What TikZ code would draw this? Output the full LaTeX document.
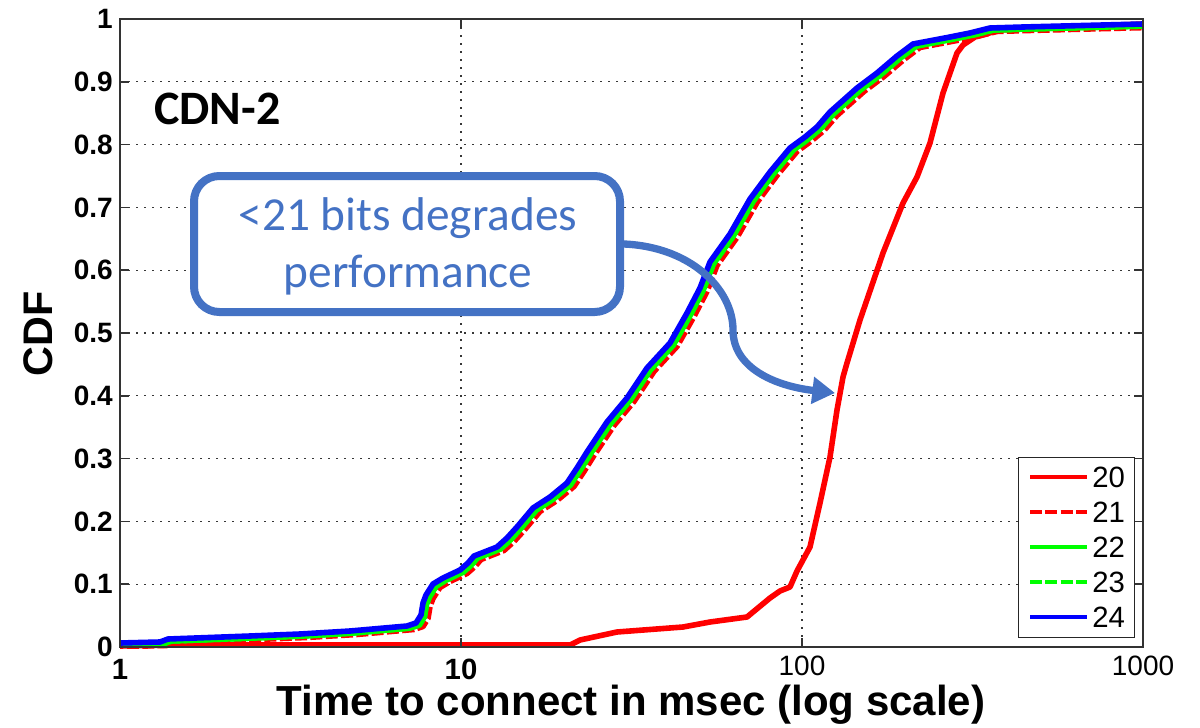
\documentclass[tikz,border=0pt]{standalone}
\usepackage{fontspec}
\setmainfont{Liberation Sans}
\newfontfamily\calibri{Carlito}
\usetikzlibrary{arrows.meta}
\definecolor{annblue}{HTML}{4472C4}
\definecolor{gridgray}{RGB}{55,55,55}
\definecolor{pRed}{RGB}{255,0,0}
\definecolor{pGreen}{RGB}{0,255,0}
\definecolor{pBlue}{RGB}{0,0,255}
\newcommand\bluecurve[1]{\draw[#1] (120,643) -- (160,642) -- (168,639) -- (250,636) -- (300,634) -- (350,631) -- (407,626) -- (416,623) -- (421,615) -- (423,603) -- (426,595) -- (433,584) -- (443,578) -- (460,570) -- (468,563) -- (474,556) -- (497,547) -- (507,538) -- (517,527) -- (533,508) -- (550,497) -- (567,483) -- (577,468) -- (587,452) -- (607,422) -- (627,398) -- (647,368) -- (670,343) -- (687,313) -- (700,288) -- (710,262) -- (730,234) -- (750,199) -- (770,172) -- (790,148) -- (805,137) -- (817,127) -- (830,112) -- (857,88) -- (877,73) -- (897,56) -- (913,44) -- (950,37) -- (970,33) -- (990,28) -- (1023,27) -- (1143,24);}
\begin{document}
\begin{tikzpicture}[x=0.75pt,y=-0.75pt,
  gridline/.style={draw=gridgray,line width=1pt,dash pattern=on 1.5pt off 4.5pt},
  axisline/.style={draw=black!80,line width=1.1pt},
  curve/.style={line width=4.2pt,line join=round},
  legline/.style={line width=3pt},
  ytick/.style={anchor=east,font=\fontsize{21}{24}\selectfont\bfseries,inner sep=0pt},
  xtick/.style={anchor=center,font=\fontsize{21}{24}\selectfont,inner sep=0pt},
  legtext/.style={anchor=west,font=\fontsize{22}{26}\selectfont,inner sep=0pt},
  anntext/.style={anchor=base,text=annblue,font=\calibri\fontsize{35.5}{40}\selectfont,inner sep=0pt}]
\useasboundingbox (0,0) rectangle (1200,728);
% grid
\foreach \f in {1,...,9} {\draw[gridline] (120,{647-62.8*\f}) -- (1143,{647-62.8*\f});}
\foreach \gx in {461,802} {\draw[gridline] (\gx,19) -- (\gx,647);}
% curves
\begin{scope}
\clip (120,12) rectangle (1143,648);
\draw[curve,pRed] (120,646) -- (175,645) -- (440,645) -- (570,645) -- (580,640) -- (617,632) -- (683,627) -- (710,622) -- (747,617) -- (770,598) -- (780,591) -- (790,587) -- (797,571) -- (810,547) -- (820,503) -- (830,457) -- (837,410) -- (843,377) -- (847,363) -- (860,320) -- (883,253) -- (903,203) -- (917,177) -- (930,143) -- (943,93) -- (957,53) -- (963,45) -- (975,37) -- (1000,30) -- (1143,24);
\bluecurve{curve,pRed,dash pattern=on 9pt off 2.5pt,xshift=5.25pt,yshift=-2.6pt}
\bluecurve{curve,pGreen,xshift=2.5pt,yshift=-1.5pt}
\bluecurve{curve,pGreen,dash pattern=on 9pt off 2.5pt,xshift=2.5pt,yshift=-1.5pt}
\bluecurve{curve,pBlue}
\end{scope}
% axes box and ticks
\draw[axisline] (120,19) rectangle (1143,647);
\foreach \f in {1,...,9} {
  \draw[axisline] (120,{647-62.8*\f}) -- (129,{647-62.8*\f});
  \draw[axisline] (1143,{647-62.8*\f}) -- (1134,{647-62.8*\f});
}
\foreach \gx in {461,802} {
  \draw[axisline] (\gx,647) -- (\gx,638);
  \draw[axisline] (\gx,19) -- (\gx,28);
}
% tick labels
\node[ytick] (y0) at (113,647) {0};
\node[ytick] (y1) at (113,584.2) {0.1};
\node[ytick] (y2) at (113,521.4) {0.2};
\node[ytick] (y3) at (113,458.6) {0.3};
\node[ytick] (y4) at (113,395.8) {0.4};
\node[ytick] (y5) at (113,333) {0.5};
\node[ytick] (y6) at (113,270.2) {0.6};
\node[ytick] (y7) at (113,207.4) {0.7};
\node[ytick] (y8) at (113,144.6) {0.8};
\node[ytick] (y9) at (113,81.8) {0.9};
\node[ytick] (y10) at (113,19) {1};
\node[xtick,font=\fontsize{22}{24}\selectfont\bfseries] (x1) at (120,669) {1};
\node[xtick,font=\fontsize{22}{24}\selectfont\bfseries] (x10) at (461,669) {10};
\node[xtick] (x100) at (802,666) {100};
\node[xtick] (x1000) at (1143,666) {1000};
% axis labels
\node[font=\fontsize{31.5}{34}\selectfont\bfseries,inner sep=0pt] (xlabel) at (631,705) {Time to connect in msec (log scale)};
\node[font=\fontsize{31}{34}\selectfont\bfseries,inner sep=0pt,rotate=90] (ylabel) at (38,334) {CDF};
% title text
\node[font=\calibri\fontsize{36}{40}\selectfont\bfseries,inner sep=0pt,anchor=west] (cdn) at (154,109) {CDN-2};
% legend
\node[draw=black!85,fill=white,line width=0.75pt,minimum width=87pt,minimum height=135pt,inner sep=0pt] (legend) at (1076,547) {};
\draw[legline,pRed] (1030,477) -- (1087,477);
\node[legtext] (l20) at (1092,477) {20};
\draw[legline,pRed,dash pattern=on 9pt off 2.5pt] (1030,512) -- (1087,512);
\node[legtext] (l21) at (1092,512) {21};
\draw[legline,pGreen] (1030,547) -- (1087,547);
\node[legtext] (l22) at (1092,547) {22};
\draw[legline,pGreen,dash pattern=on 9pt off 2.5pt] (1030,582) -- (1087,582);
\node[legtext] (l23) at (1092,582) {23};
\draw[legline,pBlue] (1030,617) -- (1087,617);
\node[legtext] (l24) at (1092,617) {24};
% callout
\node[draw=annblue,fill=white,line width=6pt,rounded corners=19pt,minimum width=319.5pt,minimum height=102pt,inner sep=0pt] (callout) at (407,244) {};
\node[anntext] (ann1) at (408,230) {<21 bits degrades};
\node[anntext] (ann2) at (408,287) {performance};
\coordinate (tip) at (835,393);
\draw[annblue,line width=5.5pt,-{Triangle[length=17pt,width=19.5pt]}] (callout.east) .. controls (692,247) and (733,290) .. (733,330) .. controls (733,368) and (775,386) .. (tip);
\end{tikzpicture}
\end{document}
